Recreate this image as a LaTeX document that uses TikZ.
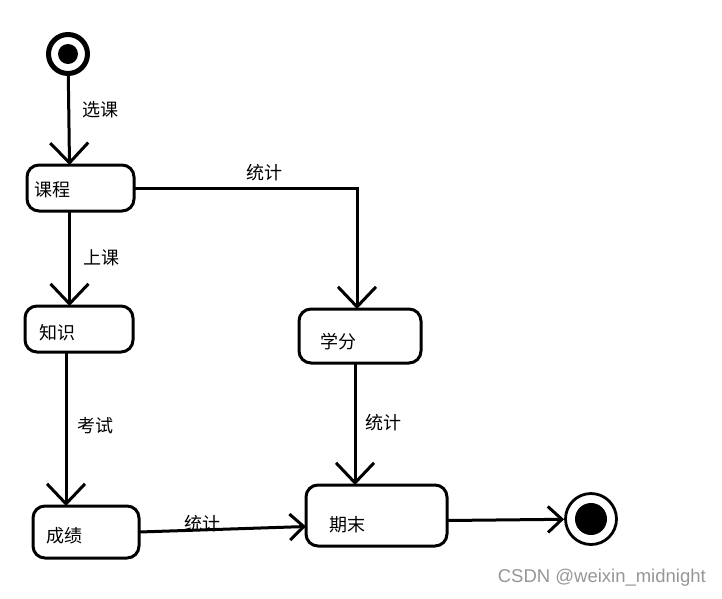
\documentclass[tikz,border=0pt]{standalone}
\usepackage{fontspec}
\newfontfamily\cjk{Noto Sans CJK SC}
\newfontfamily\wmfont{Liberation Sans}
\usetikzlibrary{arrows.meta,calc}
\definecolor{wmgray}{RGB}{150,150,150}
\tikzset{
  state/.style={draw, line width=3pt, rounded corners=12pt, inner sep=0pt, outer sep=0pt},
  txt/.style={font=\cjk\fontsize{18}{18}\selectfont, inner sep=0pt},
  arr/.style={line width=3pt, -{Straight Barb[length=20pt,width=38pt]}},
  arrs/.style={line width=3pt, -{Straight Barb[length=14pt,width=26pt]}},
}
\begin{document}
\begin{tikzpicture}[x=1pt,y=-1pt]
\useasboundingbox (0,0) rectangle (722,598);

% initial and final states
\node[circle, draw, line width=5pt, minimum size=39pt, inner sep=0pt] (start) at (68,54) {};
\node[circle, fill, minimum size=20pt, inner sep=0pt] (startdot) at (start) {};
\node[circle, draw, line width=2.8pt, minimum size=51pt, inner sep=0pt] (final) at (591,519) {};
\node[circle, fill, minimum size=32pt, inner sep=0pt] (finaldot) at (final) {};

% states
\node[state, minimum width=107pt, minimum height=46pt] (kc) at (80.5,188) {};
\node[state, minimum width=108pt, minimum height=46pt] (zs) at (79,329) {};
\node[state, minimum width=106pt, minimum height=52pt] (cj) at (86,532) {};
\node[state, minimum width=122pt, minimum height=54pt] (xf) at (360,336) {};
\node[state, minimum width=141pt, minimum height=61pt] (qm) at (376.5,515.5) {};

\node[txt, anchor=west] (kct) at (34,190) {课程};
\node[txt, anchor=west] (zst) at (39,333) {知识};
\node[txt, anchor=west] (cjt) at (46,536) {成绩};
\node[txt, anchor=west] (xft) at (320,342) {学分};
\node[txt, anchor=west] (qmt) at (329,525) {期末};

% connector end points
\coordinate (kcin) at ($(kc.north)+(-11,0)$);
\coordinate (kcout) at ($(kc.south)+(-11,0)$);
\coordinate (zsout) at ($(zs.south)+(-13,0)$);
\coordinate (xfin) at ($(xf.north)+(-3,0)$);
\coordinate (xfout) at ($(xf.south)+(-5,0)$);
\coordinate (qmleft) at ($(qm.west)+(0,11)$);
\coordinate (qmright) at ($(qm.east)+(0,5)$);

% transitions
\draw[arr] (start) -- (kcin);
\draw[arr] (kcout) -- (kcout |- zs.north);
\draw[arr] (zsout) -- (zsout |- cj.north);
\draw[arr] (kc.east) -| (xfin);
\draw[arr] (xfout) -- (xfout |- qm.north);
\draw[arrs] (cj.east) -- (qmleft);
\draw[arrs] (qmright) -- (final);

% transition labels
\node[txt] (l1) at (100,110) {选课};
\node[txt] (l2) at (264,173) {统计};
\node[txt] (l3) at (101,258) {上课};
\node[txt] (l4) at (95,426) {考试};
\node[txt] (l5) at (383,423) {统计};
\node[txt] (l6) at (202,524) {统计};

% watermark
\node[font=\wmfont\fontsize{18.5}{18.5}\selectfont, text=wmgray, anchor=east, inner sep=0pt] (wm) at (706,578) {CSDN @weixin\_midnight};
\end{tikzpicture}
\end{document}
